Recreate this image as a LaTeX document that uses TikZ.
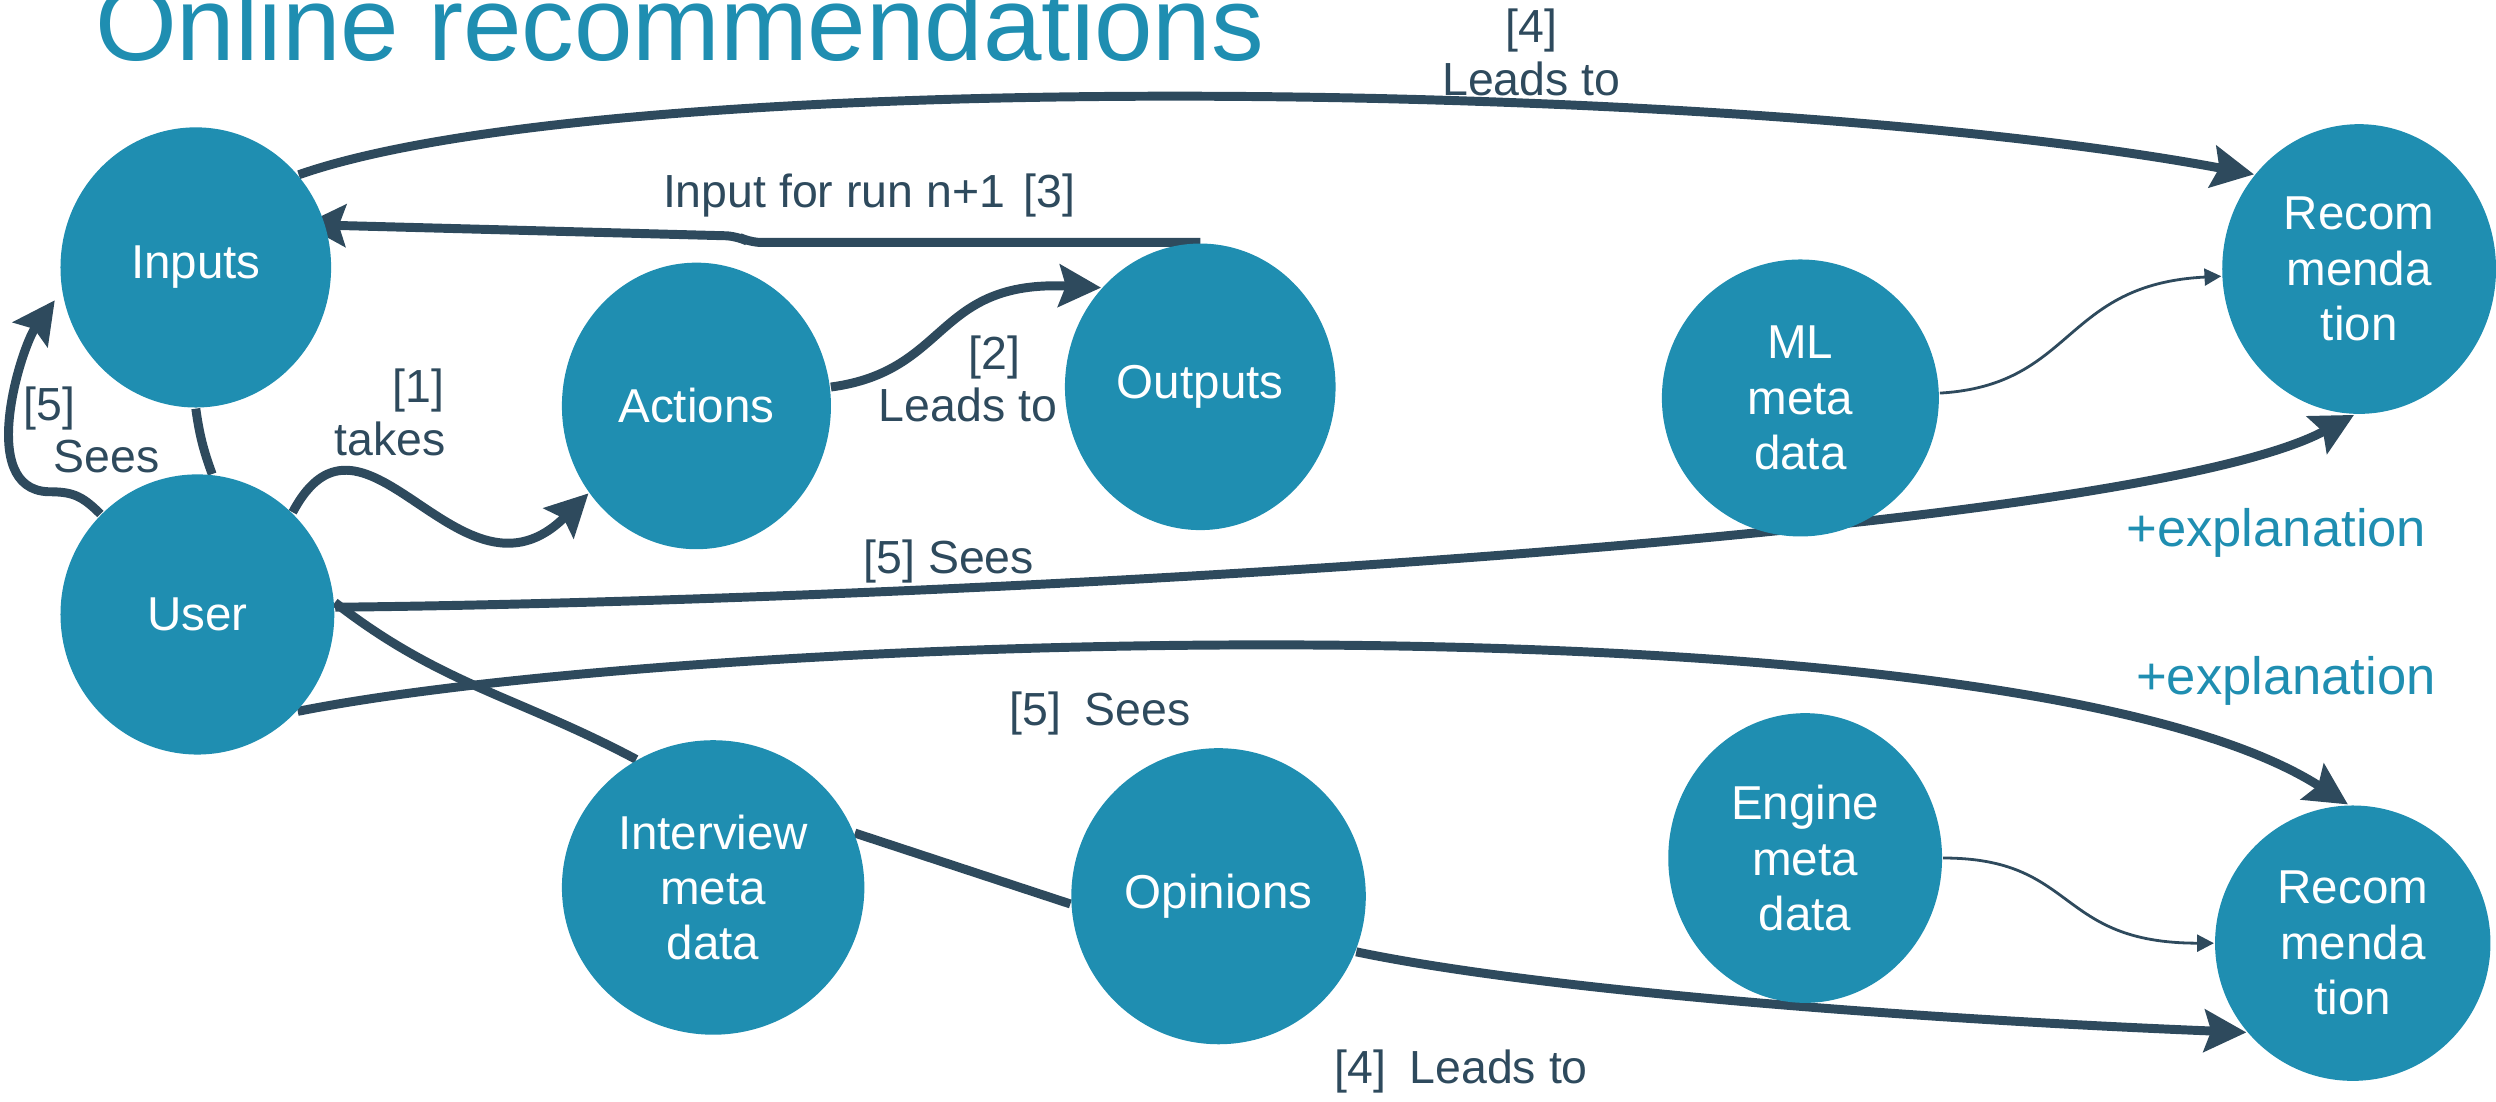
\documentclass[tikz,border=0pt]{standalone}
\usepackage{fontspec}
\setmainfont{Liberation Sans}
\usetikzlibrary{shapes.geometric,arrows.meta,backgrounds}
\definecolor{tealnode}{HTML}{1F8EB1}
\definecolor{slateflow}{HTML}{2E4A5D}

\begin{document}
\begin{tikzpicture}[line cap=round,
  blob/.style={ellipse,fill=tealnode,text=white,inner sep=0pt,align=center,
    minimum width=1.72cm,minimum height=1.80cm,font=\fontsize{8.5}{9.9}\selectfont},
  flow/.style={slateflow,line width=1.6pt,-{Stealth[length=7.5pt,width=7.5pt,inset=1.2pt]}},
  tie/.style={slateflow,line width=1.6pt},
  hair/.style={slateflow,line width=0.5pt,-{Triangle[length=3pt,width=3pt]}},
  lbl/.style={text=slateflow,inner sep=0pt,align=center,font=\fontsize{8.3}{9.4}\selectfont},
  note/.style={text=tealnode,inner sep=0pt,font=\fontsize{9.4}{11}\selectfont}]
  \useasboundingbox (0,0) rectangle (15.68,6.92);
  \node[text=tealnode,anchor=base west,inner sep=0pt,font=\fontsize{18.8}{20}\selectfont] (title) at (0.59,6.54) {Online recommendations};

  \node[blob,minimum width=1.70cm,minimum height=1.76cm] (inputs) at (1.23,5.24) {Inputs};
  \node[blob,minimum height=1.76cm] (user) at (1.24,3.06) {User};
  \node[blob,minimum width=1.69cm] (actions) at (4.375,4.37) {Actions};
  \node[blob,minimum width=1.70cm] (outputs) at (7.54,4.49) {Outputs};
  \node[blob,minimum width=1.74cm,minimum height=1.74cm] (mlmeta) at (11.31,4.42) {ML\\meta\\data};
  \node[blob,minimum height=1.82cm] (rectop) at (14.82,5.23) {Recom\\menda\\tion};
  \node[blob,minimum width=1.90cm,minimum height=1.85cm] (interview) at (4.48,1.345) {Interview\\meta\\data};
  \node[blob,minimum width=1.85cm,minimum height=1.86cm] (opinions) at (7.655,1.29) {Opinions};
  \node[blob,minimum height=1.82cm] (enginemeta) at (11.34,1.53) {Engine\\meta\\data};
  \node[blob,minimum width=1.73cm,minimum height=1.73cm] (recbot) at (14.78,0.995) {Recom\\menda\\tion};

  \begin{scope}[on background layer]
    \draw[flow] (inputs.42) .. controls +(2.0,0.7) and +(-3.2,0.6) .. (rectop.138);
    \draw[flow,shorten >=-4pt,rounded corners=2pt] (outputs.north) -- ++(-2.83,0) -- ++(-0.08,0.04) -- (inputs.18);
    \draw[flow] (actions.8) .. controls +(0.75,0.1) and +(-1.05,0.05) .. (outputs.135);
    \draw[flow] (user.47) .. controls +(0.45,0.85) and +(-0.8,-0.8) .. (actions.219);
    \draw[flow,shorten >=2pt] (user.134) .. controls +(-0.12,0.12) and +(0.15,0) .. ++(-0.33,0.14)
      .. controls +(-0.45,0.02) and +(-0.25,-0.35) .. (inputs.190);
    \draw[tie] (inputs.south) to[bend right=6] (user.84);
    \draw[flow] (user.3) .. controls +(3.9,0.04) and +(-1.4,-0.76) .. (rectop.268);
    \draw[flow] (user.316) .. controls +(2.5,0.5) and +(-2.1,1.35) .. (recbot.92);
    \draw[tie] (user.5) to[out=-38,in=152] (interview.121);
    \draw[tie] (interview.21) -- (opinions.183);
    \draw[flow] (opinions.338) .. controls +(1.2,-0.25) and +(-2.0,0.08) .. (recbot.220);
    \draw[hair] (mlmeta.2) .. controls +(0.85,0.05) and +(-1.0,-0.05) .. (rectop.183);
    \draw[hair] (enginemeta.east) .. controls +(0.85,0) and +(-1.0,0) .. (recbot.west);
  \end{scope}

  \node[lbl] (leadsfour) at (9.62,6.59) {[4]\\Leads to};
  \node[lbl] (runlabel) at (5.46,5.69) {Input for run n+1\hspace{0.4em}[3]};
  \node[lbl] (leadstwo) at (6.08,4.54) {\hspace*{1.16em}[2]\\Leads to};
  \node[lbl] (takes) at (2.45,4.33) {\hspace*{1.23em}[1]\\takes};
  \node[lbl,align=left,anchor=west] (seesinputs) at (0.14,4.22) {[5]\\\hspace*{0.65em}Sees};
  \node[lbl] (seestop) at (5.96,3.39) {[5] Sees};
  \node[lbl] (seesbot) at (6.91,2.44) {[5]\enspace Sees};
  \node[lbl] (leadsbot) at (9.18,0.19) {[4]\enspace Leads to};
  \node[note] (explaintop) at (14.30,3.57) {+explanation};
  \node[note] (explainbot) at (14.36,2.64) {+explanation};
\end{tikzpicture}
\end{document}
